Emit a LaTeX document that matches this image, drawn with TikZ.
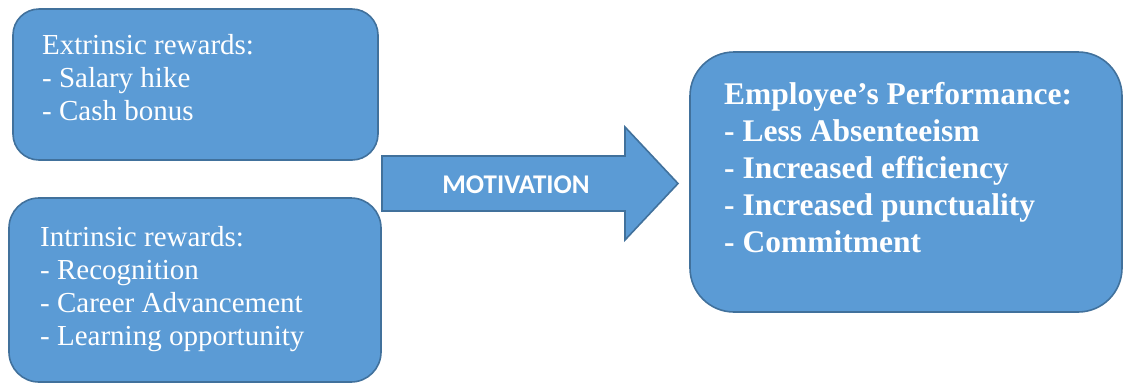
\documentclass[tikz,border=0pt]{standalone}
\usepackage{fontspec}
\setmainfont{Liberation Serif}
\newfontfamily\calibrifont{Carlito}
\definecolor{boxfill}{HTML}{5B9BD5}
\definecolor{boxline}{HTML}{41719C}
\tikzset{
  panel/.style={draw=boxline, fill=boxfill, line width=1.6pt},
  % text blocks are anchored at the baseline of their last line
  rewardtext/.style={text=white, anchor=base west, align=left, inner sep=0pt,
    font=\fontsize{29}{33}\selectfont},
  resulttext/.style={text=white, anchor=base west, align=left, inner sep=0pt,
    font=\bfseries\fontsize{31.5}{37}\selectfont},
  arrowtext/.style={text=white, inner sep=0pt, font=\calibrifont\bfseries\fontsize{27}{30}\selectfont}
}
\begin{document}
\begin{tikzpicture}[x=1pt,y=-1pt]
  \useasboundingbox (0,0) rectangle (1124,384);
  % reward boxes
  \draw[panel, rounded corners=26pt] (13,9) rectangle (378,160);
  \node[rewardtext] (extr) at (42,120) {Extrinsic rewards:\\- Salary hike\\- Cash bonus};
  \draw[panel, rounded corners=30pt] (9,198) rectangle (381,382);
  \node[rewardtext] (intr) at (40,345) {Intrinsic rewards:\\- Recognition\\- Career Advancement\\- Learning opportunity};
  % block arrow
  \draw[panel, line join=miter] (382,156) -- (625,156) -- (625,127) -- (678,183.5)
     -- (625,240) -- (625,211) -- (382,211) -- cycle;
  \node[arrowtext] (motiv) at (516,185) {MOTIVATION};
  % outcome box
  \draw[panel, rounded corners=44pt] (690,52) rectangle (1122,312);
  \node[resulttext] (perf) at (724,252) {Employee’s Performance:\\- Less Absenteeism\\- Increased efficiency\\- Increased punctuality\\- Commitment};
\end{tikzpicture}
\end{document}
